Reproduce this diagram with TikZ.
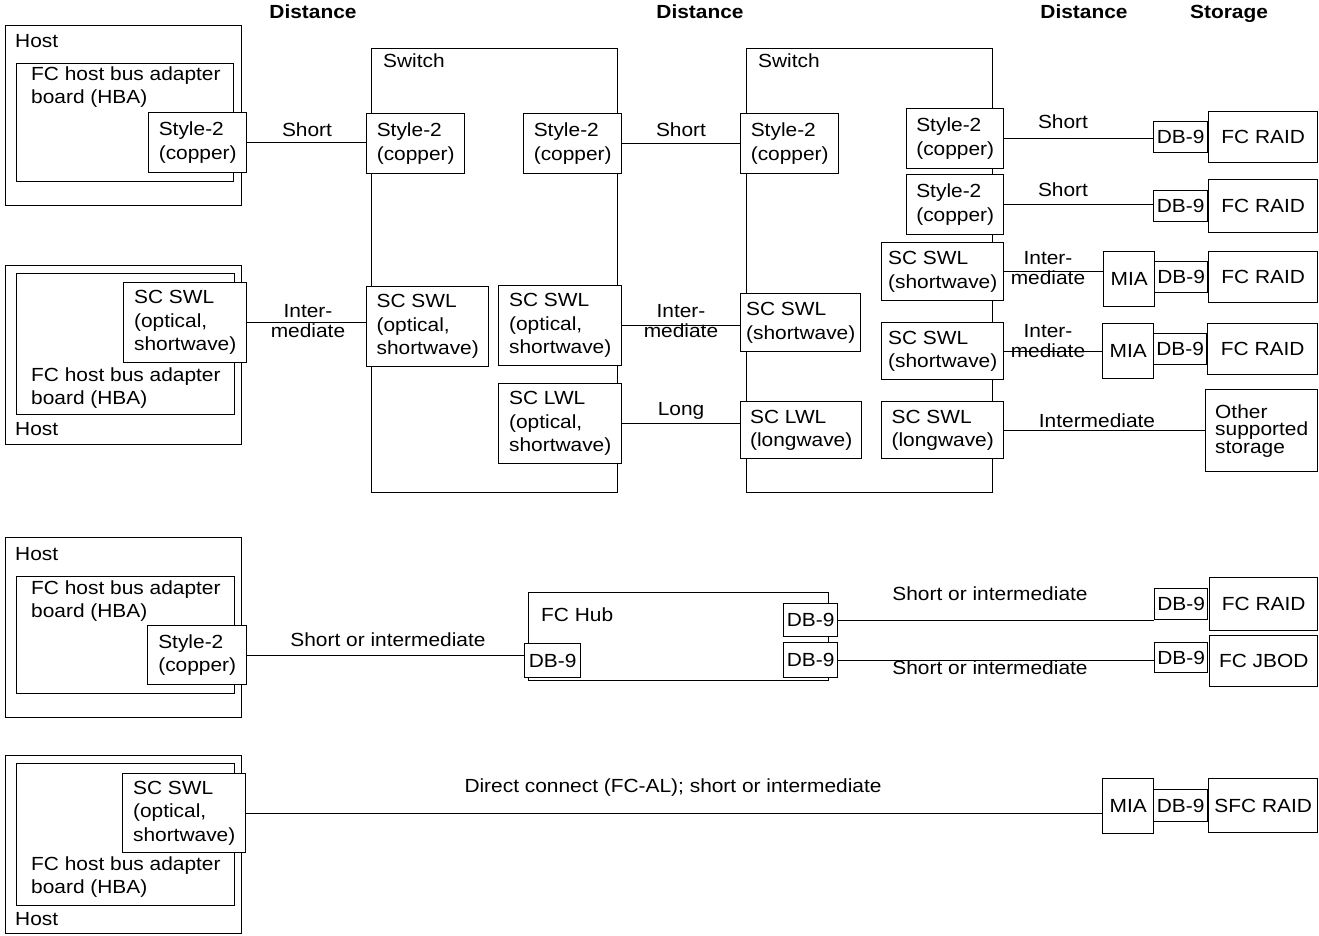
\documentclass[tikz,border=0pt]{standalone}
\usepackage{fontspec}
\setmainfont{Liberation Sans}[FakeStretch=1.1]

\begin{document}
\begin{tikzpicture}[
                x=1pt, y=-1pt,
                every node/.style={font=\fontsize{19}{23.5}\selectfont},
                frame/.style={draw, line width=1.4pt, anchor=north west, inner sep=0pt},
                port/.style={draw, line width=1.4pt, fill=white, anchor=north west, align=left, inner sep=0pt},
                sz/.style 2 args={minimum width=#1, minimum height=#2},
                txt/.style={anchor=west, align=left, inner sep=0pt},
                lbl/.style={align=center, inner sep=0pt, font=\fontsize{19}{20}\selectfont},
                head/.style={inner sep=0pt, font=\fontsize{19}{20}\selectfont\bfseries},
                wire/.style={line width=1.4pt}
            ]

                \useasboundingbox (0,0) rectangle (1319,935);

                % column headings
                \node[head] (hd1) at (313,12) {Distance};
                \node[head] (hd2) at (700,12) {Distance};
                \node[head] (hd3) at (1084,12) {Distance};
                \node[head] (hd4) at (1229,14) {Storage};

                % hosts and adapter boards
                \node[frame, sz={236}{180}] (host1) at (5,25) {};
                \node[frame, sz={217}{118}] (hba1) at (16,63) {};
                \node[txt] (host1t) at (15,41) {Host};
                \node[txt] (hba1t) at (31,87) {FC host bus adapter\\board (HBA)};

                \node[frame, sz={236}{179}] (host2) at (5,265) {};
                \node[frame, sz={218}{141}] (hba2) at (16,273) {};
                \node[txt] (host2t) at (15,429) {Host};
                \node[txt] (hba2t) at (31,388) {FC host bus adapter\\board (HBA)};

                \node[frame, sz={236}{180}] (host3) at (5,537) {};
                \node[frame, sz={218}{117}] (hba3) at (16,576) {};
                \node[txt] (host3t) at (15,554) {Host};
                \node[txt] (hba3t) at (31,601) {FC host bus adapter\\board (HBA)};

                \node[frame, sz={236}{178}] (host4) at (5,755) {};
                \node[frame, sz={218}{142}] (hba4) at (16,763) {};
                \node[txt] (host4t) at (15,919) {Host};
                \node[txt] (hba4t) at (31,877) {FC host bus adapter\\board (HBA)};

                % switches and hub
                \node[frame, sz={246}{444}] (sw1) at (371,48) {};
                \node[txt] (sw1t) at (383,61) {Switch};
                \node[frame, sz={246}{444}] (sw2) at (746,48) {};
                \node[txt] (sw2t) at (758,61) {Switch};
                \node[frame, sz={300}{88}] (hub) at (528,592) {};
                \node[txt] (hubt) at (541,615) {FC Hub};

                % ports on the hosts
                \node[port, sz={98}{60}] (h1p) at (148,112) {Style-2\\(copper)};
                \node[port, sz={123}{80}] (h2p) at (123,282) {SC SWL\\(optical,\\shortwave)};
                \node[port, sz={99}{59}] (h3p) at (147,625) {Style-2\\(copper)};
                \node[port, sz={123}{79}] (h4p) at (122,773) {SC SWL\\(optical,\\shortwave)};

                % ports on the switches
                \node[port, sz={98}{60}] (s1a) at (366,113) {Style-2\\(copper)};
                \node[port, sz={98}{60}] (s1b) at (523,113) {Style-2\\(copper)};
                \node[port, sz={122}{80}] (s1c) at (366,286) {SC SWL\\(optical,\\shortwave)};
                \node[port, sz={123}{80}] (s1d) at (498,285) {SC SWL\\(optical,\\shortwave)};
                \node[port, sz={123}{80}] (s1e) at (498,383) {SC LWL\\(optical,\\shortwave)};

                \node[port, sz={98}{60}] (s2a) at (740,113) {Style-2\\(copper)};
                \node[port, sz={120}{58}] (s2b) at (740,293) {SC SWL\\(shortwave)};
                \node[port, sz={121}{57}] (s2c) at (740,401) {SC LWL\\(longwave)};
                \node[port, sz={97}{60}] (s2d) at (906,108) {Style-2\\(copper)};
                \node[port, sz={97}{60}] (s2e) at (906,174) {Style-2\\(copper)};
                \node[port, sz={122}{58}] (s2f) at (881,242) {SC SWL\\(shortwave)};
                \node[port, sz={122}{57}] (s2g) at (881,322) {SC SWL\\(shortwave)};
                \node[port, sz={122}{57}] (s2h) at (881,401) {SC SWL\\(longwave)};

                % ports on the hub
                \node[port, sz={56}{34}] (hdb0) at (524,643) {DB-9};
                \node[port, sz={54}{33}] (hdb1) at (783,603) {DB-9};
                \node[port, sz={54}{35}] (hdb2) at (783,642) {DB-9};

                % storage
                \node[port, sz={54}{31}] (db1) at (1153,121) {DB-9};
                \node[port, sz={109}{51}] (raid1) at (1208,111) {FC RAID};
                \node[port, sz={54}{31}] (db2) at (1153,190) {DB-9};
                \node[port, sz={109}{53}] (raid2) at (1208,179) {FC RAID};
                \node[port, sz={51}{55}] (mia1) at (1103,251) {MIA};
                \node[port, sz={53}{31}] (db3) at (1154,261) {DB-9};
                \node[port, sz={109}{51}] (raid3) at (1208,251) {FC RAID};
                \node[port, sz={51}{55}] (mia2) at (1102,323) {MIA};
                \node[port, sz={53}{31}] (db4) at (1153,333) {DB-9};
                \node[port, sz={110}{51}] (raid4) at (1207,323) {FC RAID};
                \node[port, sz={112}{82}, font=\fontsize{19}{17.5}\selectfont] (other) at (1205,389) {Other\\supported\\storage};

                \node[port, sz={53}{31}] (db5) at (1154,588) {DB-9};
                \node[port, sz={108}{53}] (raid5) at (1209,577) {FC RAID};
                \node[port, sz={53}{30}] (db6) at (1154,642) {DB-9};
                \node[port, sz={108}{51}] (jbod) at (1209,635) {FC JBOD};

                \node[port, sz={51}{55}] (mia3) at (1102,778) {MIA};
                \node[port, sz={54}{32}] (db7) at (1153,789) {DB-9};
                \node[port, sz={109}{54}] (sfc) at (1208,778) {SFC RAID};

                % cables
                \draw[wire] (h1p.east) -- (h1p.east -| s1a.west);
                \draw[wire] (s1b.east) -- (s1b.east -| s2a.west);
                \draw[wire] (h2p.east) -- (h2p.east -| s1c.west);
                \draw[wire] (s1d.east) -- (s1d.east -| s2b.west);
                \draw[wire] (s1e.east) -- (s1e.east -| s2c.west);
                \draw[wire] (s2d.east) -- (s2d.east -| db1.west);
                \draw[wire] (s2e.east) -- (s2e.east -| db2.west);
                \draw[wire] (s2f.east) -- (s2f.east -| mia1.west);
                \draw[wire] (s2g.east) -- (s2g.east -| mia2.west);
                \draw[wire] (s2h.east) -- (s2h.east -| other.west);
                \draw[wire] (h3p.east) -- (h3p.east -| hdb0.west);
                \draw[wire] (hdb1.east) -- (hdb1.east -| db5.west);
                \draw[wire] (hdb2.east) -- (hdb2.east -| db6.west);
                \draw[wire] (h4p.east) -- (h4p.east -| mia3.west);

                % distances
                \node[lbl] (d1) at (307,130) {Short};
                \node[lbl] (d2) at (308,321) {Inter-\\mediate};
                \node[lbl] (d3) at (681,130) {Short};
                \node[lbl] (d4) at (681,321) {Inter-\\mediate};
                \node[lbl] (d5) at (681,411) {Long};
                \node[lbl] (d6) at (1063,122) {Short};
                \node[lbl] (d7) at (1063,190) {Short};
                \node[lbl] (d8) at (1048,268) {Inter-\\mediate};
                \node[lbl] (d9) at (1048,341) {Inter-\\mediate};
                \node[lbl] (d10) at (1097,421) {Intermediate};
                \node[lbl] (d11) at (388,640) {Short or intermediate};
                \node[lbl] (d12) at (990,594) {Short or intermediate};
                \node[lbl] (d13) at (990,668) {Short or intermediate};
                \node[lbl] (d14) at (673,788) {Direct connect (FC-AL); short or intermediate};

            \end{tikzpicture}
\end{document}
